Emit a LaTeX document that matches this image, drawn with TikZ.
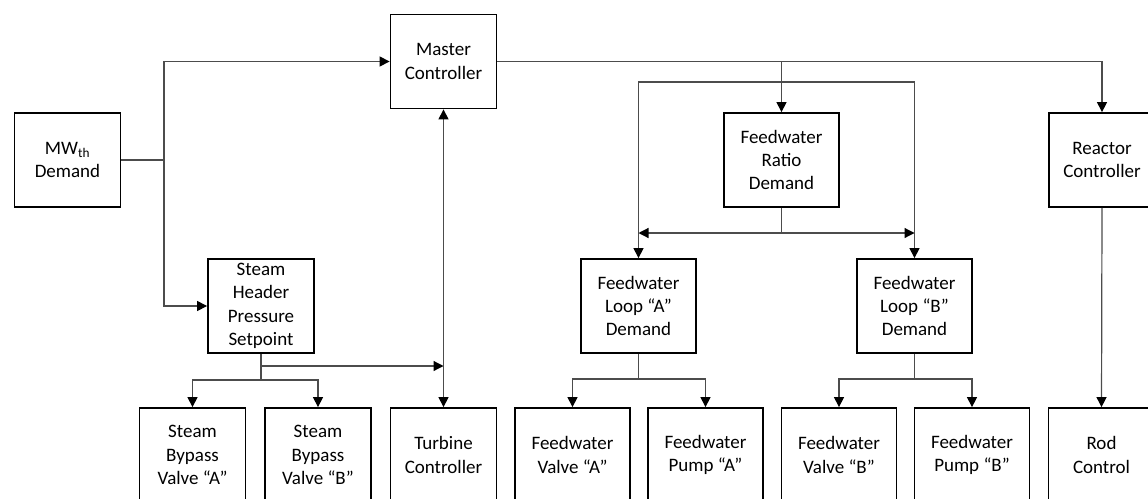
\documentclass[tikz,border=0pt]{standalone}
\usepackage{fontspec}
\setmainfont{Carlito}
\usetikzlibrary{arrows.meta}

\begin{document}
\begin{tikzpicture}[x=1pt, y=-1pt,
  box/.style={draw=black, line width=1.8pt, rectangle, inner sep=0pt,
              align=center, minimum height=94pt,
              font=\fontsize{19}{23.3}\selectfont},
  narrow/.style={box, minimum width=106pt},
  wide/.style={box, minimum width=115pt},
  conn/.style={draw=black!70, line width=1.2pt},
  tip/.style={Triangle[length=10pt,width=10pt,fill=black,color=black]},
  arr/.style={conn, -{Triangle[length=10pt,width=10pt,color=black]}},
  arrboth/.style={conn, {Triangle[length=10pt,width=10pt,color=black]}-{Triangle[length=10pt,width=10pt,color=black]}}]

\useasboundingbox (0,0) rectangle (1148,498);
\clip (0,0) rectangle (1148,498);

% top level
\node[narrow] (mw)      at (67.5,160)  {MW\textsubscript{th}\\Demand};
\node[narrow] (master)  at (443.5,61.5) {Master\\Controller};
\node[wide]   (ratio)   at (781.5,160) {Feedwater\\Ratio\\Demand};
\node[narrow] (reactor) at (1102,160)  {Reactor\\Controller};

% middle level
\node[narrow] (header) at (261,306)   {Steam\\Header\\Pressure\\Setpoint};
\node[wide]   (loopA)  at (638.5,306) {Feedwater\\Loop “A”\\Demand};
\node[wide]   (loopB)  at (914.5,306) {Feedwater\\Loop “B”\\Demand};

% bottom level
\node[narrow] (sbA)  at (192.5,455) {Steam\\Bypass\\Valve “A”};
\node[narrow] (sbB)  at (318,455)   {Steam\\Bypass\\Valve “B”};
\node[narrow] (turb) at (443.5,455) {Turbine\\Controller};
\node[wide]   (fvA)  at (572.5,455) {Feedwater\\Valve “A”};
\node[wide]   (fpA)  at (705.5,455) {Feedwater\\Pump “A”};
\node[wide]   (fvB)  at (839,455)   {Feedwater\\Valve “B”};
\node[wide]   (fpB)  at (972,455)   {Feedwater\\Pump “B”};
\node[narrow] (rod)  at (1101.5,455) {Rod\\Control};

% junction points
\coordinate (mj) at (164,160);
\coordinate (hj) at (261,366);
\coordinate (hb) at (261,380);
\coordinate (split) at (781.5,82);
\coordinate (rj) at (781.5,233);
\coordinate (aj) at (638.5,379);
\coordinate (bj) at (914.5,379);

% demand to master controller and steam header
\draw[conn] (mw.east) -- (mj);
\draw[arr] (mj) |- (master.west);
\draw[arr] (mj) |- (header.west);

% steam header outputs
\draw[conn] (header.south) -- (hb);
\draw[arr] (hb) -| (sbA.north);
\draw[arr] (hb) -| (sbB.north);
\draw[arr] (hj) -- (hj -| turb.north);

% master controller to turbine
\draw[arrboth] (master.south) -- (turb.north);

% master controller to the right
\draw[arr] (master.east) -| (reactor.north);
\draw[arr] (ratio.north |- master.east) -- (ratio.north);
\draw[arr] (split) -| (loopA.north);
\draw[arr] (split) -| (loopB.north);

% ratio demand to loops
\draw[conn] (ratio.south) -- (rj);
\draw[arr] (rj) -- (rj -| loopA.north);
\draw[arr] (rj) -- (rj -| loopB.north);

% loop demands to valves and pumps
\draw[conn] (loopA.south) -- (aj);
\draw[arr] (aj) -| (fvA.north);
\draw[arr] (aj) -| (fpA.north);
\draw[conn] (loopB.south) -- (bj);
\draw[arr] (bj) -| (fvB.north);
\draw[arr] (bj) -| (fpB.north);

% reactor controller to rod control
\draw[arr] (reactor.south) -- (rod.north);
\end{tikzpicture}
\end{document}
